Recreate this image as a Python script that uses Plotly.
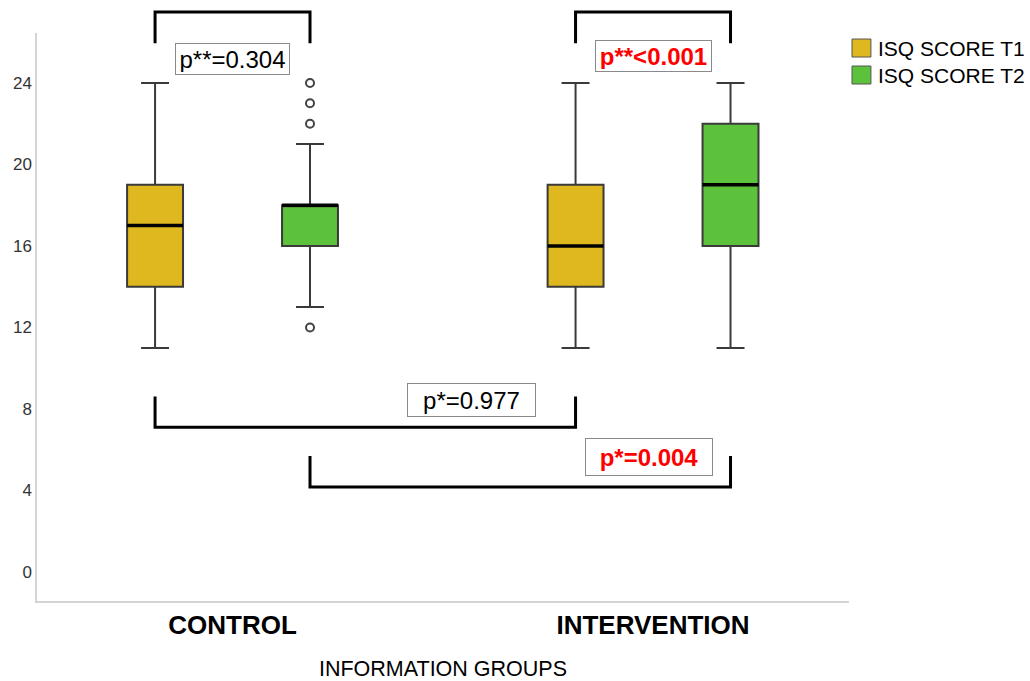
import plotly.graph_objects as go

# ---------------- data ----------------
groups = ["CONTROL", "INTERVENTION"]
series_names = ["ISQ SCORE T1", "ISQ SCORE T2"]

t1_low = [11, 11]
t1_q1 = [14, 14]
t1_median = [17, 16]
t1_q3 = [19, 19]
t1_high = [24, 24]

t2_low = [13, 11]
t2_q1 = [16, 16]
t2_median = [18, 19]
t2_q3 = [18, 22]
t2_high = [21, 24]
t2_outliers = [[12, 22, 23, 24], []]

y_ticks = [0, 4, 8, 12, 16, 20, 24]

p_within = ["p**=0.304", "<b>p**&lt;0.001</b>"]
p_between = ["p*=0.977", "<b>p*=0.004</b>"]

# ---------------- style ----------------
FONT = "Liberation Sans, Arial, sans-serif"
C_T1 = "#DFB81F"
C_T2 = "#5DC23B"
LINE_C = "#3a3a3a"
BOXGAP = 0.263
BOXGROUPGAP = 0.639
half = (1 - BOXGAP) / 4


def centre(g, s):
    return g + (-half if s == 0 else half)


fig = go.Figure()

stats = [
    (t1_low, t1_q1, t1_median, t1_q3, t1_high, C_T1, None),
    (t2_low, t2_q1, t2_median, t2_q3, t2_high, C_T2, t2_outliers),
]
for s, (lo, q1, med, q3, hi, col, outl) in enumerate(stats):
    if outl is not None:
        kw = dict(y=outl, boxpoints="outliers", jitter=0, pointpos=0,
                  marker=dict(symbol="circle-open", size=8, color="#444444",
                              line=dict(width=2, color="#444444")))
    else:
        kw = dict(boxpoints=False)
    fig.add_trace(go.Box(
        x=groups, q1=q1, median=med, q3=q3, lowerfence=lo, upperfence=hi,
        fillcolor=col, line=dict(color=LINE_C, width=2), whiskerwidth=0.5,
        offsetgroup=f"s{s}", alignmentgroup="a", showlegend=False,
        hoverinfo="skip", name=series_names[s], **kw))
    # thick median overlay
    fig.add_trace(go.Box(
        x=groups, q1=med, median=med, q3=med, lowerfence=med, upperfence=med,
        fillcolor="rgba(0,0,0,0)", line=dict(color="black", width=3.5),
        whiskerwidth=0, boxpoints=False,
        offsetgroup=f"s{s}", alignmentgroup="a", showlegend=False,
        hoverinfo="skip", name=series_names[s] + " median"))

# ---------------- brackets ----------------
shapes = []


def bracket(x0, x1, ybar, yleg, yref):
    path = f"M {x0},{yleg} L {x0},{ybar} L {x1},{ybar} L {x1},{yleg}"
    return dict(type="path", path=path, xref="x", yref=yref,
                line=dict(color="black", width=3))


# within-group (top, above plot area, paper y)
for g in range(len(groups)):
    shapes.append(bracket(centre(g, 0), centre(g, 1), 1.037, 0.982, "paper"))
# between groups (data y)
shapes.append(bracket(centre(0, 0), centre(1, 0), 7.11, 8.62, "y"))
shapes.append(bracket(centre(0, 1), centre(1, 1), 4.17, 5.69, "y"))

annotations = [
    dict(text=p_within[0], x=0, xref="x", y=0.954, yref="paper",
         width=109, height=26, font=dict(size=24, color="black", family=FONT)),
    dict(text=p_within[1], x=1, xref="x", y=0.96, yref="paper",
         width=111, height=26, font=dict(size=24, color="#FF0000", family=FONT)),
    dict(text=p_between[0], x=0.568, xref="x", y=8.44, yref="y",
         width=123, height=28, font=dict(size=24, color="black", family=FONT)),
    dict(text=p_between[1], x=0.99, xref="x", y=5.64, yref="y",
         width=122, height=32, font=dict(size=24, color="#FF0000", family=FONT)),
]
for a in annotations:
    a.update(showarrow=False, bordercolor="#8a8a8a", borderwidth=1,
             borderpad=2, bgcolor="white", xanchor="center", yanchor="middle")

# ---------------- legend (swatches + labels, paper coords) ----------------
LEG_X0, LEG_X1, LEG_TXT = 1.0037, 1.027, 1.0335
LEG_TOP, LEG_SW, LEG_STEP = 0.9894, 0.0317, 0.0475
for s, col in enumerate([C_T1, C_T2]):
    top = LEG_TOP - s * LEG_STEP
    shapes.append(dict(type="rect", xref="paper", yref="paper",
                       x0=LEG_X0, x1=LEG_X1, y0=top - LEG_SW, y1=top,
                       fillcolor=col, line=dict(color="#555555", width=1)))
    annotations.append(dict(text=series_names[s], xref="paper", yref="paper",
                            x=LEG_TXT, y=top - LEG_SW / 2, xanchor="left",
                            yanchor="middle", showarrow=False,
                            font=dict(size=21, family=FONT, color="black")))

fig.update_layout(
    width=1030, height=681,
    margin=dict(l=37, r=181, t=33, b=80, autoexpand=False),
    paper_bgcolor="white", plot_bgcolor="white",
    font=dict(family=FONT, color="black"),
    boxmode="group", boxgap=BOXGAP, boxgroupgap=BOXGROUPGAP,
    shapes=shapes, annotations=annotations, showlegend=False,
    xaxis=dict(type="category", categoryorder="array", categoryarray=groups,
               range=[-0.465, 1.466], showgrid=False, zeroline=False,
               showline=True, linecolor="#d4d4d4", linewidth=1.5, ticks="",
               automargin=False,
               tickfont=dict(size=26, family=FONT, color="black", weight="bold"),
               title=dict(text="INFORMATION GROUPS", standoff=27,
                          font=dict(size=21.5, family=FONT, color="black"))),
    yaxis=dict(range=[-1.42, 26.45], tickvals=y_ticks, showgrid=False,
               zeroline=False, showline=True, linecolor="#d4d4d4", linewidth=1.5,
               ticks="", automargin=False,
               tickfont=dict(size=17, family=FONT, color="#333333")),
)

# remove the browser's default 8px page margin so the figure fills the window
fig.write_html("out.html",
               config={"displayModeBar": False},
               post_script="document.body.style.margin='0';"
                           "document.body.style.overflow='hidden';")
